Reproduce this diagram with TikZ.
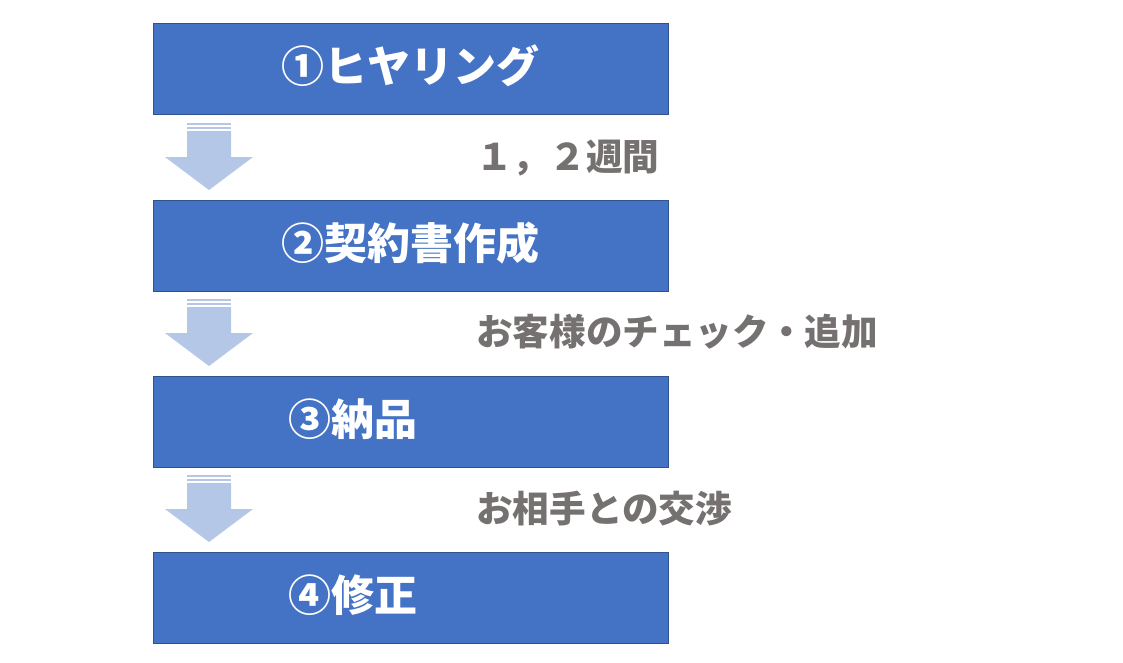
\documentclass[tikz,border=0pt]{standalone}
\usepackage{fontspec}
\newfontfamily\cjk{Noto Sans CJK JP}
\definecolor{boxfill}{HTML}{4472C4}
\definecolor{boxline}{HTML}{2F528F}
\definecolor{arrowc}{HTML}{B4C7E7}
\definecolor{labelc}{HTML}{767171}
\tikzset{
  stepbox/.style={draw=boxline, line width=0.9pt, fill=boxfill, minimum width=515pt, minimum height=91pt, inner sep=0pt},
  boxtext/.style={text=white, inner sep=0pt, font=\cjk\bfseries\fontsize{43}{48}\selectfont},
  labeltext/.style={text=labelc, inner sep=0pt, font=\cjk\bfseries\fontsize{36.6}{40}\selectfont},
  stripedarrow/.pic={
    \fill[arrowc] (-22,0) rectangle (22,2);
    \fill[arrowc] (-22,4.3) rectangle (22,6.3);
    \fill[arrowc] (-22,8.3) -- (22,8.3) -- (22,34.3) -- (44,34.3) -- (0,67.3) -- (-44,34.3) -- (-22,34.3) -- cycle;
  }
}
\begin{document}
\begin{tikzpicture}[x=1pt,y=-1pt]
\useasboundingbox (0,0) rectangle (1123,662);
\node[stepbox] (b1) at (410.5,68.5) {};
\node[stepbox] (b2) at (410.5,245.5) {};
\node[stepbox] (b3) at (410.5,421.5) {};
\node[stepbox] (b4) at (410.5,597.5) {};
\node[boxtext, anchor=base] (t1) at (410.5,82) {①ヒヤリング};
\node[boxtext, anchor=base] (t2) at (410.5,259) {②契約書作成};
\node[boxtext, anchor=base west] (t3) at (288,435) {③納品};
\node[boxtext, anchor=base west] (t4) at (288,611) {④修正};
\coordinate (a1) at (209,122.7);
\coordinate (a2) at (209,298.7);
\coordinate (a3) at (209,474.7);
\pic at (a1) {stripedarrow};
\pic at (a2) {stripedarrow};
\pic at (a3) {stripedarrow};
\node[labeltext, anchor=base west] (l1) at (476,170) {１，２週間};
\node[labeltext, anchor=base west] (l2) at (476,345) {お客様のチェック・追加};
\node[labeltext, anchor=base west] (l3) at (476,522) {お相手との交渉};
\end{tikzpicture}
\end{document}
